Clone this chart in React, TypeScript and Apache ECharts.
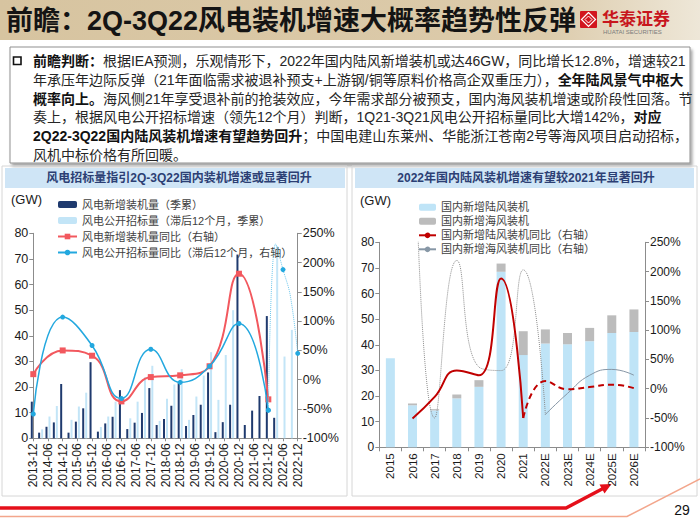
import React, { useEffect, useRef } from 'react';
import * as echarts from 'echarts';

// ---------- Left chart data ----------
const quarterLabels = [
  '2013-12', '2014-03', '2014-06', '2014-09', '2014-12', '2015-03', '2015-06', '2015-09', '2015-12',
  '2016-03', '2016-06', '2016-09', '2016-12', '2017-03', '2017-06', '2017-09', '2017-12',
  '2018-03', '2018-06', '2018-09', '2018-12', '2019-03', '2019-06', '2019-09', '2019-12',
  '2020-03', '2020-06', '2020-09', '2020-12', '2021-03', '2021-06', '2021-09', '2021-12',
  '2022-03', '2022-06', '2022-09', '2022-12',
];
const installQ = [
  14.3, 2.2, 4.5, 6.2, 21.2, 2.2, 6.5, 11.7, 29.7, 2.6, 5.8, 8.4, 18.8, 3.6, 6.1, 9.9, 19.6,
  5.2, 7.5, 12.7, 21.8, 4.8, 9.1, 13.1, 25.7, 2.4, 6.3, 13.1, 71.7, 5.2, 10.8, 16.5, 47.7,
  8.0, null, null, null,
];
const tenderQ = [
  null, 3.5, 8.5, 12.6, null, 7.2, 12.4, 17.8, null, 4.4, 8.5, 14.3, null, 7.8, 14.3, 23.8, 28.3,
  6.8, 15.4, 21.0, 27.0, 7.2, 16.3, 24.5, 33.6, 15.0, 32.5, 50.0, null, null, null, null, null,
  75.0, 31.9, 42.3, null,
];
const yoyDates = ['2013-12', '2014-12', '2015-12', '2016-12', '2017-12', '2018-12', '2019-12', '2020-12', '2021-12'];
const installYoY = [9.5, 50, 41, -37, 4.5, 7.5, 23, 181, -33.5];
const tenderYoY = [-58.5, 107, 58.5, -32, 52, -4.5, 23, 96, -52];
const tenderYoY22Dates = ['2021-12', '2022-03', '2022-06', '2022-09', '2022-12'];
const tenderYoY22 = [-52, 232, 188, 143, 45];

// ---------- Right chart data ----------
const years = ['2015', '2016', '2017', '2018', '2019', '2020', '2021', '2022E', '2023E', '2024E', '2025E', '2026E'];
const onshore = [34.8, 16.4, 14.4, 19.1, 23.6, 68.5, 36.0, 40.5, 40.2, 41.4, 44.6, 45.0];
const offshore = [0, 0.7, 0.5, 1.5, 2.6, 3.2, 9.3, 5.5, 4.4, 5.2, 6.9, 8.8];
const onYoYActYears = ['2016', '2017', '2018', '2019', '2020', '2021'];
const onYoYAct = [-51, -14, 31, 23, 188, -50];
const onYoYEstYears = ['2021', '2022E', '2023E', '2024E', '2025E', '2026E'];
const onYoYEst = [-50, 13, -1, 3, 7, 1];
const offYoYActYears = ['2016', '2017', '2018', '2019', '2020', '2021', '2022E'];
const offYoYAct = [600, -50, 219, 37, 31, 203, -44];
const offYoYEstYears = ['2022E', '2023E', '2024E', '2025E', '2026E'];
const offYoYEst = [-44, -8, 23, 33, 23];

// ---------- Texts ----------
const titleText = '前瞻：2Q-3Q22风电装机增速大概率趋势性反弹';
const bodyLines = [
  '{b|前瞻判断：}{n|根据IEA预测，乐观情形下，2022年国内陆风新增装机或达46GW，同比增长12.8%，增速较21}',
  '{n|年承压年边际反弹（21年面临需求被退补预支+上游钢/铜等原料价格高企双重压力），}{b|全年陆风景气中枢大}',
  '{b|概率向上。}{n|海风侧21年享受退补前的抢装效应，今年需求部分被预支，国内海风装机增速或阶段性回落。节}',
  '{n|奏上，根据风电公开招标增速（领先12个月）判断，1Q21-3Q21风电公开招标量同比大增142%，}{b|对应}',
  '{b|2Q22-3Q22国内陆风装机增速有望趋势回升}{n|；中国电建山东莱州、华能浙江苍南2号等海风项目启动招标，}',
  '{n|风机中标价格有所回暖。}',
];
const leftHeader = '风电招标量指引2Q-3Q22国内装机增速或显著回升';
const rightHeader = '2022年国内陆风装机增速有望较2021年显著回升';
const leftNames = ['风电新增装机量（季累）', '风电公开招标量（滞后12个月，季累）', '风电新增装机量同比（右轴）', '风电公开招标量同比（滞后12个月，右轴）'];
const rightNames = ['国内新增陆风装机', '国内新增海风装机', '国内新增陆风装机同比（右轴）', '国内新增海风装机同比（右轴）'];

const FONT = "'Liberation Sans', Arial, 'Noto Sans CJK SC', sans-serif";
const AXIS = '#8c8c8c';

function pairs(xs: string[], vs: number[]) {
  return xs.map((x, i) => [x, vs[i]]);
}

function valueAxis(gridIndex: number, right: boolean, fontSize: number) {
  return {
    type: 'value',
    gridIndex,
    position: right ? 'right' : 'left',
    min: right ? -100 : 0,
    max: right ? 250 : 80,
    interval: right ? 50 : 10,
    axisLine: { show: true, lineStyle: { color: AXIS, width: 1 } },
    axisTick: { show: true, length: 4, lineStyle: { color: AXIS } },
    splitLine: { show: false },
    axisLabel: { fontSize, color: '#1a1a1a', margin: 5, formatter: right ? '{value}%' : '{value}', fontFamily: FONT },
  };
}

function buildOption() {
  const graphics: any[] = [
    // title bar
    {
      type: 'rect', shape: { x: 0, y: 0, width: 700, height: 40 },
      style: { fill: { type: 'linear', x: 0, y: 0, x2: 1, y2: 0, colorStops: [
        { offset: 0, color: '#d7c4a0' }, { offset: 0.78, color: '#dccbab' }, { offset: 1, color: '#eee7d8' }] } },
    },
    { type: 'text', x: 6, y: 21, style: { text: titleText, fontSize: 27, fontWeight: 'bold', fill: '#141414', fontFamily: FONT, verticalAlign: 'middle' } },
    // logo
    { type: 'rect', shape: { x: 580, y: 11, width: 17, height: 17, r: 1 }, style: { fill: '#d2161e' } },
    { type: 'polyline', shape: { points: [[588.5, 12.5], [595.5, 19.5], [588.5, 26.5], [581.5, 19.5], [588.5, 12.5]] }, style: { stroke: '#ffffff', lineWidth: 1.2, fill: 'none' } },
    { type: 'polyline', shape: { points: [[588.5, 16], [592, 19.5], [588.5, 23], [585, 19.5], [588.5, 16]] }, style: { stroke: '#ffffff', lineWidth: 1, fill: 'none' } },
    { type: 'text', x: 602, y: 19, style: { text: '华泰证券', fontSize: 17, fontWeight: 'bold', fill: '#c8161d', fontFamily: FONT, verticalAlign: 'middle' } },
    { type: 'text', x: 603, y: 32, style: { text: 'HUATAI SECURITIES', fontSize: 6, fill: '#7a7a7a', fontFamily: FONT, verticalAlign: 'middle' } },
    // text box
    {
      type: 'rect', shape: { x: 10, y: 47, width: 680, height: 116 },
      style: { fill: '#ffffff', stroke: '#8f8f8f', lineWidth: 1, shadowBlur: 3, shadowOffsetX: 2, shadowOffsetY: 3, shadowColor: 'rgba(0,0,0,0.35)' },
    },
    { type: 'rect', shape: { x: 13.5, y: 57, width: 7.5, height: 7.5 }, style: { fill: 'none', stroke: '#111', lineWidth: 1.6 } },
    ...bodyLines.map((t, i) => ({
      type: 'text', x: 33, y: 61 + i * 18.8,
      style: {
        text: t, verticalAlign: 'middle', fontSize: 14, fontFamily: FONT, fill: '#262626',
        rich: {
          n: { fontSize: 14, fontFamily: FONT, fill: '#262626', color: '#262626' },
          b: { fontSize: 14, fontFamily: FONT, fontWeight: 'bold', fill: '#111', color: '#111' },
        },
      },
    })),
    // panels
    { type: 'rect', shape: { x: 2, y: 166, width: 345, height: 330 }, style: { fill: 'none', stroke: '#d6d6d6', lineWidth: 1 } },
    { type: 'rect', shape: { x: 352, y: 166, width: 345, height: 330 }, style: { fill: 'none', stroke: '#d6d6d6', lineWidth: 1 } },
    { type: 'rect', shape: { x: 5, y: 168, width: 340, height: 20 }, style: { fill: '#cfe5f6' } },
    { type: 'rect', shape: { x: 355, y: 168, width: 339, height: 20 }, style: { fill: '#cfe5f6' } },
    { type: 'text', x: 179, y: 178, style: { text: leftHeader, fontSize: 12, fontWeight: 'bold', fill: '#2c3f74', fontFamily: FONT, align: 'center', verticalAlign: 'middle' } },
    { type: 'text', x: 526, y: 178, style: { text: rightHeader, fontSize: 12, fontWeight: 'bold', fill: '#2c3f74', fontFamily: FONT, align: 'center', verticalAlign: 'middle' } },
    { type: 'text', x: 11, y: 199, style: { text: '(GW)', fontSize: 13, fill: '#1a1a1a', fontFamily: FONT, verticalAlign: 'middle' } },
    { type: 'text', x: 360, y: 200, style: { text: '(GW)', fontSize: 13, fill: '#1a1a1a', fontFamily: FONT, verticalAlign: 'middle' } },
    // bottom decoration
    { type: 'polyline', shape: { points: [[0, 516.5], [627, 516.5], [700, 479]] }, style: { stroke: '#f3a68c', lineWidth: 1.5, fill: 'none' } },
    { type: 'polyline', shape: { points: [[0, 508], [566, 508], [603, 488.5]] }, style: { stroke: '#e50f1a', lineWidth: 3.5, fill: 'none' } },
    { type: 'polygon', shape: { points: [[611.5, 484], [604.5, 493.5], [599.5, 484.5]] }, style: { fill: '#e50f1a' } },
    { type: 'text', x: 682, y: 510, style: { text: '29', fontSize: 14, fill: '#111', fontFamily: FONT, align: 'center', verticalAlign: 'middle' } },
  ];

  return {
    animation: false,
    backgroundColor: '#ffffff',
    textStyle: { fontFamily: FONT },
    grid: [
      { left: 33.3, top: 233.3, width: 264.4, height: 205 },
      { left: 379.3, top: 242.3, width: 265.7, height: 205 },
    ],
    legend: [
      {
        orient: 'vertical', left: 52, top: 191.5, itemWidth: 19, itemHeight: 7, itemGap: 0, selectedMode: false,
        textStyle: { fontSize: 11, color: '#3f3f3f', lineHeight: 16, fontFamily: FONT },
        data: leftNames,
      },
      {
        orient: 'vertical', left: 413, top: 195.3, itemWidth: 17, itemHeight: 7, itemGap: 0, selectedMode: false,
        textStyle: { fontSize: 11, color: '#3f3f3f', lineHeight: 14, fontFamily: FONT },
        data: rightNames,
      },
    ],
    xAxis: [
      {
        type: 'category', gridIndex: 0, data: quarterLabels, boundaryGap: false,
        axisLine: { lineStyle: { color: AXIS } },
        axisTick: { show: true, interval: 1, length: 3, lineStyle: { color: AXIS } },
        axisLabel: { interval: 1, rotate: 90, fontSize: 12, color: '#1a1a1a', margin: 5, fontFamily: FONT },
      },
      {
        type: 'category', gridIndex: 1, data: years, boundaryGap: true,
        axisLine: { lineStyle: { color: AXIS } },
        axisTick: { show: true, length: 4, lineStyle: { color: AXIS } },
        axisLabel: { interval: 0, rotate: 90, fontSize: 11.5, color: '#1a1a1a', margin: 6, fontFamily: FONT },
      },
    ],
    yAxis: [valueAxis(0, false, 12.5), valueAxis(0, true, 12.5), valueAxis(1, false, 12), valueAxis(1, true, 12)],
    graphic: graphics,
    series: [
      // left chart
      { name: leftNames[0], type: 'bar', xAxisIndex: 0, yAxisIndex: 0, data: installQ, barWidth: 2, barGap: '50%', clip: false, itemStyle: { color: '#1f3a6e' } },
      { name: leftNames[1], type: 'bar', xAxisIndex: 0, yAxisIndex: 0, data: tenderQ, barWidth: 2, clip: false, itemStyle: { color: '#c3e5f7' } },
      {
        name: leftNames[2], type: 'line', xAxisIndex: 0, yAxisIndex: 1, data: pairs(yoyDates, installYoY), smooth: 0.5,
        symbol: 'rect', symbolSize: 6, lineStyle: { width: 2, color: '#f2585e' }, itemStyle: { color: '#f2585e' }, z: 4,
      },
      {
        name: leftNames[3], type: 'line', xAxisIndex: 0, yAxisIndex: 1, data: pairs(yoyDates, tenderYoY), smooth: 0.5,
        symbol: 'circle', symbolSize: 5, lineStyle: { width: 1.5, color: '#23a8df' }, itemStyle: { color: '#23a8df' }, z: 5,
      },
      {
        name: leftNames[3], type: 'line', xAxisIndex: 0, yAxisIndex: 1, data: pairs(tenderYoY22Dates, tenderYoY22), smooth: 0.4,
        symbol: 'circle', symbolSize: 5, lineStyle: { width: 1, color: '#6cc6ec', type: 'dotted' }, itemStyle: { color: '#23a8df' }, z: 5,
      },
      // right chart
      { name: rightNames[0], type: 'bar', xAxisIndex: 1, yAxisIndex: 2, stack: 'cap', data: onshore, barWidth: 9, itemStyle: { color: '#bfe4f7' } },
      { name: rightNames[1], type: 'bar', xAxisIndex: 1, yAxisIndex: 2, stack: 'cap', data: offshore, barWidth: 9, itemStyle: { color: '#bcbcbc' } },
      {
        name: rightNames[2], type: 'line', xAxisIndex: 1, yAxisIndex: 3, data: pairs(onYoYActYears, onYoYAct), smooth: 0.5,
        symbol: 'none', lineStyle: { width: 2, color: '#c00000' }, itemStyle: { color: '#c00000' }, z: 5,
      },
      {
        name: rightNames[2], type: 'line', xAxisIndex: 1, yAxisIndex: 3, data: pairs(onYoYEstYears, onYoYEst), smooth: 0.5,
        symbol: 'none', lineStyle: { width: 2, color: '#c00000', type: [6, 4] }, itemStyle: { color: '#c00000' }, z: 5,
      },
      {
        name: rightNames[3], type: 'line', xAxisIndex: 1, yAxisIndex: 3, data: pairs(offYoYEstYears, offYoYEst), smooth: 0.5,
        symbol: 'none', lineStyle: { width: 1, color: '#8797a6' }, itemStyle: { color: '#8797a6' }, z: 4,
      },
      {
        name: rightNames[3], type: 'line', xAxisIndex: 1, yAxisIndex: 3, data: pairs(offYoYActYears, offYoYAct), smooth: 0.5,
        symbol: 'none', clip: true, lineStyle: { width: 1, color: '#8c8c8c', type: 'dotted' }, itemStyle: { color: '#8c8c8c' }, z: 4,
      },
    ],
  };
}

export default function App() {
  const ref = useRef<HTMLDivElement>(null);
  useEffect(() => {
    if (!ref.current) return;
    const chart = echarts.init(ref.current, null, { renderer: 'svg' });
    chart.setOption(buildOption() as any);
    return () => chart.dispose();
  }, []);
  return <div ref={ref} style={{ position: 'absolute', left: 0, top: 0, width: 700, height: 525 }} />;
}
